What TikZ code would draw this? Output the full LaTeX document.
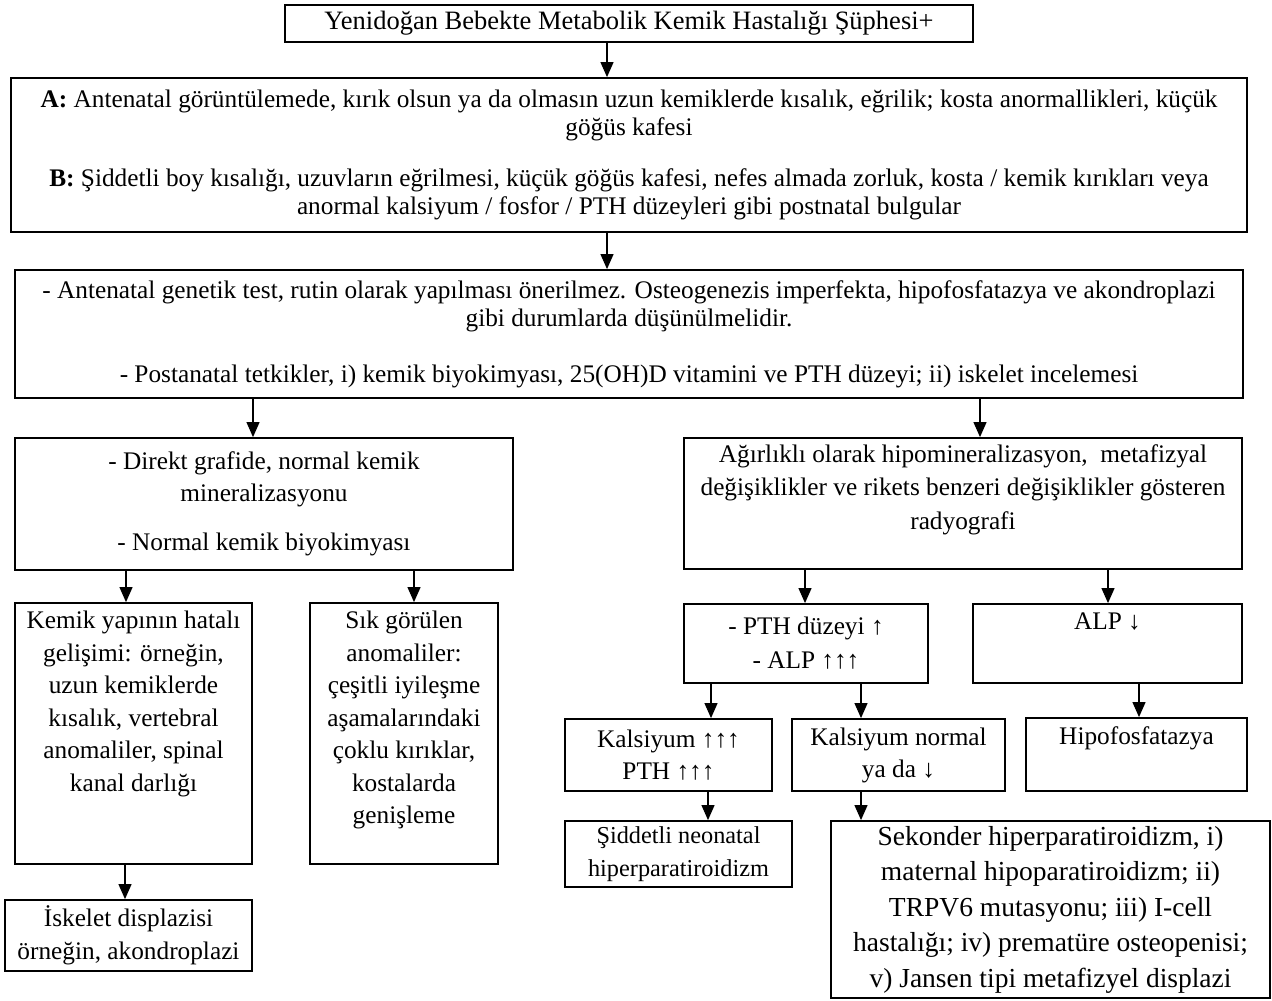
\documentclass[tikz,border=0pt]{standalone}
\usepackage{fontspec}
\setmainfont{Liberation Serif}
\usetikzlibrary{arrows.meta}

\begin{document}
\begin{tikzpicture}[x=1pt, y=-1pt, every text node part/.style={align=center}, box/.style={draw, line width=1.8pt, inner sep=0pt, font=\fontsize{25.3}{28.5}\selectfont}, low/.style={font=\fontsize{25.3}{32.5}\selectfont}, arr/.style={line width=1.1pt, -{Triangle[width=13pt,length=15pt]}}]
\useasboundingbox (0,0) rectangle (1272,1001);
% upper part
\node [box, font=\fontsize{26.5}{30}\selectfont, minimum width=688, minimum height=37] (hast) at (629,23.5) {Yenidoğan Bebekte Metabolik Kemik Hastalığı Şüphesi+};
\node [box, minimum width=1236, minimum height=154] (bulgu) at (629,155) {\textbf{A:} Antenatal görüntülemede, kırık olsun ya da olmasın uzun kemiklerde kısalık, eğrilik; kosta anormallikleri, küçük\\göğüs kafesi\\[22pt]\textbf{B:} Şiddetli boy kısalığı, uzuvların eğrilmesi, küçük göğüs kafesi, nefes almada zorluk, kosta / kemik kırıkları veya\\anormal kalsiyum / fosfor / PTH düzeyleri gibi postnatal bulgular};
\node [box, minimum width=1228, minimum height=128] (test) at (629,334) {- Antenatal genetik test, rutin olarak yapılması önerilmez. Osteogenezis imperfekta, hipofosfatazya ve akondroplazi\\gibi durumlarda düşünülmelidir.\\[27pt]- Postanatal tetkikler, i) kemik biyokimyası, 25(OH)D vitamini ve PTH düzeyi; ii) iskelet incelemesi};
% second level
\node [box, font=\fontsize{25.3}{32}\selectfont, minimum width=498, minimum height=132] (normal) at (264,504) {- Direkt grafide, normal kemik\\mineralizasyonu\\[17.5pt]- Normal kemik biyokimyası};
\node [box, font=\fontsize{25.3}{33.5}\selectfont, minimum width=558, minimum height=131] (hipomin) at (963,503.5) {Ağırlıklı olarak hipomineralizasyon,\ \ metafizyal\\değişiklikler ve rikets benzeri değişiklikler gösteren\\radyografi\\\mbox{}};
% left branch
\node [box, low, minimum width=237, minimum height=261] (hatali) at (133.5,733.5) {Kemik yapının hatalı\\gelişimi: örneğin,\\uzun kemiklerde\\kısalık, vertebral\\anomaliler, spinal\\kanal darlığı\\[32.5pt]\mbox{}};
\node [box, low, minimum width=188, minimum height=261] (kirik) at (404,733.5) {Sık görülen\\anomaliler:\\çeşitli iyileşme\\aşamalarındaki\\çoklu kırıklar,\\kostalarda\\genişleme\\\mbox{}};
\node [box, low, minimum width=247, minimum height=71] (iskelet) at (128.5,935.5) {İskelet displazisi\\örneğin, akondroplazi};
% right branch
\node [box, font=\fontsize{25.3}{34}\selectfont, minimum width=244, minimum height=79] (pth) at (806,643.5) {- PTH düzeyi ↑\\- ALP ↑↑↑};
\node [box, low, minimum width=269, minimum height=79] (alp) at (1107.5,643.5) {ALP ↓\\[12pt]\mbox{}};
\node [box, font=\fontsize{25.3}{32}\selectfont, minimum width=207, minimum height=72] (kalyuk) at (668.5,755) {Kalsiyum ↑↑↑\\PTH ↑↑↑};
\node [box, font=\fontsize{25.3}{32}\selectfont, minimum width=213, minimum height=72] (kaldus) at (898.5,755) {Kalsiyum normal\\ya da ↓};
\node [box, low, minimum width=221, minimum height=73] (hpp) at (1136.5,754.5) {Hipofosfatazya\\[6pt]\mbox{}};
\node [box, font=\fontsize{24.3}{33}\selectfont, minimum width=227, minimum height=66] (nshpt) at (678.5,854) {Şiddetli neonatal\\hiperparatiroidizm};
\node [box, font=\fontsize{27.5}{35.5}\selectfont, minimum width=439, minimum height=177] (sekonder) at (1050.5,909.5) {Sekonder hiperparatiroidizm, i)\\maternal hipoparatiroidizm; ii)\\TRPV6 mutasyonu; iii) I-cell\\hastalığı; iv) prematüre osteopenisi;\\v) Jansen tipi metafizyel displazi};
% arrows
\draw [arr] (hast.south -| 607,0) -- (bulgu.north -| 607,0);
\draw [arr] (bulgu.south -| 607,0) -- (test.north -| 607,0);
\draw [arr] (test.south -| 253,0) -- (normal.north -| 253,0);
\draw [arr] (test.south -| 980,0) -- (hipomin.north -| 980,0);
\draw [arr] (normal.south -| 126,0) -- (hatali.north -| 126,0);
\draw [arr] (normal.south -| 414,0) -- (kirik.north -| 414,0);
\draw [arr] (hatali.south -| 125,0) -- (iskelet.north -| 125,0);
\draw [arr] (hipomin.south -| 805,0) -- (pth.north -| 805,0);
\draw [arr] (hipomin.south -| 1108,0) -- (alp.north -| 1108,0);
\draw [arr] (pth.south -| 711,0) -- (kalyuk.north -| 711,0);
\draw [arr] (pth.south -| 861,0) -- (kaldus.north -| 861,0);
\draw [arr] (alp.south -| 1139,0) -- (hpp.north -| 1139,0);
\draw [arr] (kalyuk.south -| 708,0) -- (nshpt.north -| 708,0);
\draw [arr] (kaldus.south -| 861,0) -- (sekonder.north -| 861,0);
\end{tikzpicture}
\end{document}
